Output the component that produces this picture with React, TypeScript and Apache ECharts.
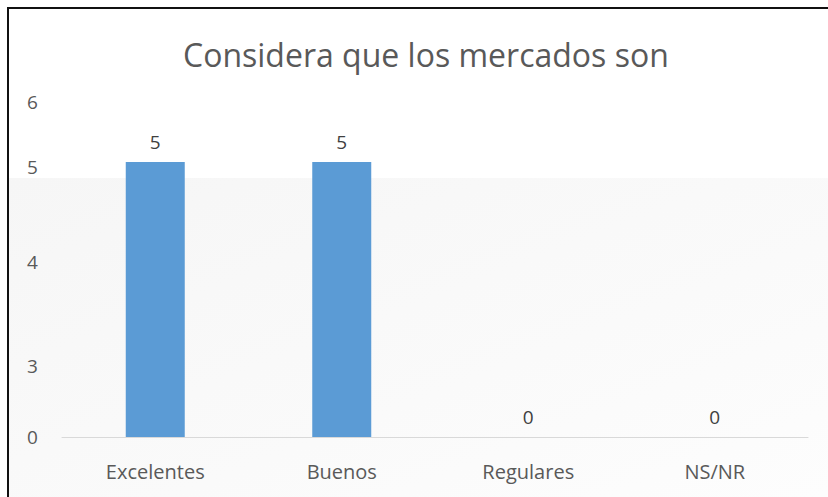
import React, { useEffect, useRef } from "react";
import * as echarts from "echarts";

const titleText = "Considera que los mercados son";
const categories = ["Excelentes", "Buenos", "Regulares", "NS/NR"];
const values = [5, 5, 0, 0];
// Tick labels as printed on the (irregular) vertical axis of the reference
const yTickLabels = ["6", "5", "4", "3", "0"];
// Where each printed label sits along the value scale
const yTickAt = [6.09, 4.91, 3.18, 1.29, 0];

export default function App() {
  const ref = useRef<HTMLDivElement>(null);
  useEffect(() => {
    if (!ref.current) return;
    const chart = echarts.init(ref.current, null, { renderer: "svg" });
    const font = "'Open Sans', 'Noto Sans', sans-serif";
    chart.setOption({
      animation: false,
      backgroundColor: "#ffffff",
      graphic: [
        {
          type: "rect",
          z: -10,
          shape: { x: 9, y: 178, width: 819, height: 319 },
          style: {
            fill: new echarts.graphic.LinearGradient(0, 0, 1, 1, [
              { offset: 0, color: "#f6f6f6" },
              { offset: 0.6, color: "#fafafa" },
              { offset: 1, color: "#fdfdfd" },
            ]),
          },
        },
        {
          type: "line",
          shape: { x1: 7, y1: 8, x2: 828, y2: 8 },
          style: { stroke: "#111", lineWidth: 2 },
        },
        {
          type: "line",
          shape: { x1: 8, y1: 7, x2: 8, y2: 497 },
          style: { stroke: "#111", lineWidth: 2 },
        },
      ],
      title: {
        text: titleText,
        left: 178,
        top: 33,
        textStyle: {
          fontFamily: font,
          fontSize: 32,
          fontWeight: "normal",
          color: "#595959",
        },
      },
      grid: { left: 62, right: 20, top: 101.5, bottom: 60 },
      xAxis: {
        type: "category",
        data: categories,
        axisLine: { lineStyle: { color: "#d9d9d9", width: 1 } },
        axisTick: { show: false },
        axisLabel: {
          color: "#595959",
          fontFamily: font,
          fontSize: 20,
          margin: 24,
        },
      },
      yAxis: {
        type: "value",
        min: 0,
        max: 6.1,
        axisLine: { show: false },
        axisTick: { show: false },
        splitLine: { show: false },
        axisLabel: {
          customValues: yTickAt,
          formatter: (v: number) => {
            const i = yTickAt.findIndex((p) => Math.abs(p - v) < 1e-6);
            return i >= 0 ? yTickLabels[i] : "";
          },
          color: "#595959",
          fontFamily: font,
          fontSize: 19,
          align: "left",
          margin: 35,
        },
      },
      series: [
        {
          type: "bar",
          data: values,
          barWidth: 59,
          itemStyle: { color: "#5b9bd5" },
          label: {
            show: true,
            position: "top",
            distance: 11,
            color: "#404040",
            fontFamily: font,
            fontSize: 19,
          },
        },
      ],
    });
    return () => chart.dispose();
  }, []);
  return (
    <div
      ref={ref}
      style={{ position: "absolute", left: 0, top: 0, width: 828, height: 497 }}
    />
  );
}
